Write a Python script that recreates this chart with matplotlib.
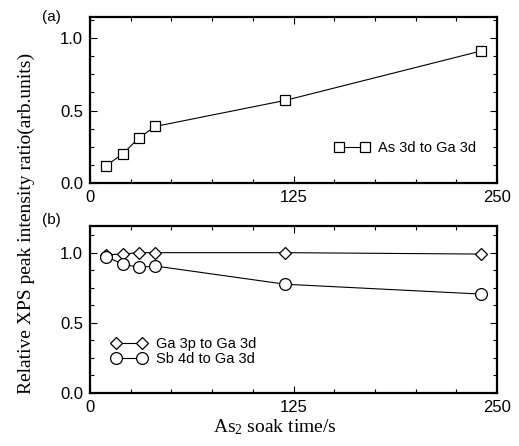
import matplotlib
matplotlib.use("Agg")
import matplotlib.pyplot as plt
from matplotlib.ticker import MultipleLocator

# soak times (s)
t_a = [10, 20, 30, 40, 120, 240]
as_ga = [0.12, 0.20, 0.31, 0.39, 0.57, 0.91]

t_b = [10, 20, 30, 40, 120, 240]
ga3p_ga = [0.985, 0.99, 1.00, 1.00, 1.00, 0.99]
sb4d_ga = [0.97, 0.92, 0.895, 0.905, 0.775, 0.705]

plt.rcParams["font.family"] = ["Liberation Sans", "DejaVu Sans"]
plt.rcParams["mathtext.fontset"] = "custom"
plt.rcParams["mathtext.rm"] = "Liberation Serif"
plt.rcParams["mathtext.it"] = "Liberation Serif:italic"

fig = plt.figure(figsize=(5.19, 4.46), dpi=100)
ax1 = fig.add_axes([90/519, 1-183/446, 407/519, 166/446])
ax2 = fig.add_axes([90/519, 1-393/446, 407/519, 167/446])


def style(ax, ymax):
    ax.set_xlim(0, 250)
    ax.set_ylim(0, ymax)
    ax.xaxis.set_major_locator(MultipleLocator(125))
    ax.xaxis.set_minor_locator(MultipleLocator(25))
    ax.yaxis.set_major_locator(MultipleLocator(0.5))
    ax.yaxis.set_minor_locator(MultipleLocator(0.125))
    ax.tick_params(which="both", direction="in", top=True, right=True, labelsize=12, width=0.8)
    ax.tick_params(which="major", length=5, pad=5)
    ax.tick_params(which="minor", length=3)
    ax.yaxis.set_major_formatter(plt.FormatStrFormatter("%.1f"))
    for s in ax.spines.values():
        s.set_linewidth(1.6)


style(ax1, 1.145)
style(ax2, 1.19)

ax1.plot(t_a, as_ga, "-", color="black", lw=0.8, marker="s", ms=7.5,
         mfc="white", mec="black", mew=0.9, label="As 3d to Ga 3d")
ax1.legend(loc="lower right", bbox_to_anchor=(0.982, 0.09), frameon=False,
           fontsize=10.5, handlelength=2.4, handletextpad=0.6, numpoints=2)

ax2.plot(t_b, ga3p_ga, "-", color="black", lw=0.8, marker="D", ms=6,
         mfc="white", mec="black", mew=0.9, label="Ga 3p to Ga 3d")
ax2.plot(t_b, sb4d_ga, "-", color="black", lw=0.8, marker="o", ms=8.5,
         mfc="white", mec="black", mew=0.9, label="Sb 4d to Ga 3d")
ax2.legend(loc="lower left", bbox_to_anchor=(0.02, 0.085), frameon=False,
           fontsize=10.5, handlelength=2.4, handletextpad=0.7, numpoints=2,
           labelspacing=0.05)

fig.text(42/519, 1-17/446, "(a)", fontsize=11, ha="left", va="center")
fig.text(42/519, 1-220/446, "(b)", fontsize=11, ha="left", va="center")

fig.text(26/519, 0.5, "Relative XPS peak intensity ratio(arb.units)",
         family="Liberation Serif", fontsize=14, rotation=90,
         ha="center", va="center")
fig.text(275/519, 1-432/446, "As$_2$ soak time/s", family="Liberation Serif",
         fontsize=14, ha="center", va="baseline")

fig.savefig("out.png", dpi=100)
